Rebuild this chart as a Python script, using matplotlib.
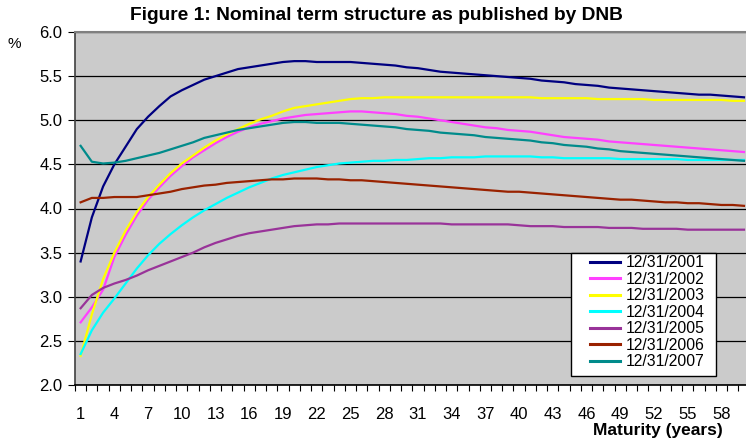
import numpy as np
import matplotlib
matplotlib.use("Agg")
import matplotlib.pyplot as plt
from matplotlib.patches import Rectangle

plt.rcParams['font.family'] = ['Liberation Sans', 'DejaVu Sans']

# maturities in years
maturity = list(range(1, 61))

yc_2001 = [3.40, 3.90, 4.25, 4.50, 4.70, 4.90, 5.04, 5.16, 5.27, 5.34,
           5.40, 5.46, 5.50, 5.54, 5.58, 5.60, 5.62, 5.64, 5.66, 5.67,
           5.67, 5.66, 5.66, 5.66, 5.66, 5.65, 5.64, 5.63, 5.62, 5.60,
           5.59, 5.57, 5.55, 5.54, 5.53, 5.52, 5.51, 5.50, 5.49, 5.48,
           5.47, 5.45, 5.44, 5.43, 5.41, 5.40, 5.39, 5.37, 5.36, 5.35,
           5.34, 5.33, 5.32, 5.31, 5.30, 5.29, 5.29, 5.28, 5.27, 5.26]
yc_2002 = [2.71, 2.88, 3.08, 3.45, 3.70, 3.92, 4.10, 4.24, 4.37, 4.48,
           4.58, 4.66, 4.74, 4.81, 4.87, 4.92, 4.96, 4.99, 5.02, 5.04,
           5.06, 5.07, 5.08, 5.09, 5.10, 5.10, 5.09, 5.08, 5.07, 5.05,
           5.04, 5.02, 5.00, 4.98, 4.96, 4.94, 4.92, 4.91, 4.89, 4.88,
           4.87, 4.85, 4.83, 4.81, 4.80, 4.79, 4.78, 4.76, 4.75, 4.74,
           4.73, 4.72, 4.71, 4.70, 4.69, 4.68, 4.67, 4.66, 4.65, 4.64]
yc_2003 = [2.33, 2.80, 3.20, 3.50, 3.75, 3.96, 4.13, 4.27, 4.40, 4.51,
           4.60, 4.69, 4.77, 4.84, 4.90, 4.96, 5.01, 5.05, 5.10, 5.14,
           5.16, 5.18, 5.20, 5.22, 5.24, 5.25, 5.25, 5.26, 5.26, 5.26,
           5.26, 5.26, 5.26, 5.26, 5.26, 5.26, 5.26, 5.26, 5.26, 5.26,
           5.26, 5.25, 5.25, 5.25, 5.25, 5.25, 5.24, 5.24, 5.24, 5.24,
           5.24, 5.23, 5.23, 5.23, 5.23, 5.23, 5.23, 5.23, 5.22, 5.22]
yc_2004 = [2.35, 2.62, 2.82, 2.98, 3.15, 3.32, 3.47, 3.60, 3.71, 3.81,
           3.90, 3.98, 4.05, 4.12, 4.18, 4.24, 4.29, 4.34, 4.38, 4.41,
           4.44, 4.47, 4.49, 4.51, 4.52, 4.53, 4.54, 4.54, 4.55, 4.55,
           4.56, 4.57, 4.57, 4.58, 4.58, 4.58, 4.59, 4.59, 4.59, 4.59,
           4.59, 4.58, 4.58, 4.57, 4.57, 4.57, 4.57, 4.57, 4.56, 4.56,
           4.56, 4.56, 4.56, 4.56, 4.55, 4.55, 4.55, 4.55, 4.55, 4.55]
yc_2005 = [2.87, 3.02, 3.10, 3.15, 3.19, 3.24, 3.30, 3.35, 3.40, 3.45,
           3.50, 3.56, 3.61, 3.65, 3.69, 3.72, 3.74, 3.76, 3.78, 3.80,
           3.81, 3.82, 3.82, 3.83, 3.83, 3.83, 3.83, 3.83, 3.83, 3.83,
           3.83, 3.83, 3.83, 3.82, 3.82, 3.82, 3.82, 3.82, 3.82, 3.81,
           3.80, 3.80, 3.80, 3.79, 3.79, 3.79, 3.79, 3.78, 3.78, 3.78,
           3.77, 3.77, 3.77, 3.77, 3.76, 3.76, 3.76, 3.76, 3.76, 3.76]
yc_2006 = [4.07, 4.12, 4.12, 4.13, 4.13, 4.13, 4.15, 4.17, 4.19, 4.22,
           4.24, 4.26, 4.27, 4.29, 4.30, 4.31, 4.32, 4.33, 4.33, 4.34,
           4.34, 4.34, 4.33, 4.33, 4.32, 4.32, 4.31, 4.30, 4.29, 4.28,
           4.27, 4.26, 4.25, 4.24, 4.23, 4.22, 4.21, 4.20, 4.19, 4.19,
           4.18, 4.17, 4.16, 4.15, 4.14, 4.13, 4.12, 4.11, 4.10, 4.10,
           4.09, 4.08, 4.07, 4.07, 4.06, 4.06, 4.05, 4.04, 4.04, 4.03]
yc_2007 = [4.71, 4.53, 4.51, 4.52, 4.54, 4.57, 4.60, 4.63, 4.67, 4.71,
           4.75, 4.80, 4.83, 4.86, 4.89, 4.91, 4.93, 4.95, 4.97, 4.98,
           4.98, 4.97, 4.97, 4.97, 4.96, 4.95, 4.94, 4.93, 4.92, 4.90,
           4.89, 4.88, 4.86, 4.85, 4.84, 4.83, 4.81, 4.80, 4.79, 4.78,
           4.77, 4.75, 4.74, 4.72, 4.71, 4.70, 4.68, 4.67, 4.65, 4.64,
           4.63, 4.62, 4.61, 4.60, 4.59, 4.58, 4.57, 4.56, 4.55, 4.54]

series = [yc_2001, yc_2002, yc_2003, yc_2004, yc_2005, yc_2006, yc_2007]
labels = ['12/31/2001', '12/31/2002', '12/31/2003', '12/31/2004',
          '12/31/2005', '12/31/2006', '12/31/2007']
colors = ['#000080', '#FF40FF', '#FFFF00', '#00FFFF', '#993399', '#992200', '#008B8B']

W, H = 746, 441
fig = plt.figure(figsize=(W / 100, H / 100), dpi=100)
ax = fig.add_axes([75 / W, 56 / H, 674.6 / W, 353 / H])
ax.set_facecolor('#CBCBCB')

for y, lab, c in zip(series, labels, colors):
    ax.plot(maturity, y, color=c, lw=1.6, label=lab, zorder=3)

ax.set_xlim(0.5, 60.5)
ax.set_ylim(2.0, 6.0)
ax.set_yticks(np.arange(2.0, 6.01, 0.5))
ax.set_yticklabels([f'{v:.1f}' for v in np.arange(2.0, 6.01, 0.5)], fontsize=12)
ax.set_xticks(maturity[::3])
ax.set_xticklabels([str(m) for m in maturity[::3]], fontsize=12)
ax.set_xticks(np.arange(0.5, 61, 1), minor=True)
ax.tick_params(axis='x', which='major', length=0, pad=16)
ax.tick_params(axis='x', which='minor', length=4, width=0.8, direction='out')
ax.tick_params(axis='y', length=5, width=0.8, pad=4)

ax.grid(axis='y', color='black', lw=0.9, zorder=1)
ax.set_axisbelow(True)
for s in ['top', 'right']:
    ax.spines[s].set_color('#808080')
    ax.spines[s].set_linewidth(1.5)
ax.spines['left'].set_color('#404040')
ax.spines['left'].set_linewidth(1.2)
ax.spines['bottom'].set_color('black')
ax.spines['bottom'].set_linewidth(1.2)

fig.text(376 / W, 1 - 16 / H, 'Figure 1: Nominal term structure as published by DNB',
         ha='center', va='center', fontsize=13.8, fontweight='bold')
fig.text(14 / W, 1 - 44 / H, '%', ha='center', va='center', fontsize=11)
fig.text(723 / W, 1 - 430 / H, 'Maturity (years)', ha='right', va='center',
         fontsize=12.5, fontweight='bold')

# legend box drawn separately so the inner padding can differ per side
box = Rectangle((571 / W, 1 - 376 / H), 145 / W, 123 / H, transform=fig.transFigure,
                facecolor='white', edgecolor='black', lw=1.0, zorder=4)
ax.add_patch(box)
box.set_clip_on(False)

leg = ax.legend(loc='upper left', bbox_to_anchor=(590 / W, 1 - 255 / H),
                bbox_transform=fig.transFigure, fontsize=11.3, frameon=False,
                handlelength=1.9, handletextpad=0.35, labelspacing=0.1,
                borderpad=0.0, borderaxespad=0)
leg.set_zorder(5)
for line in leg.get_lines():
    line.set_linewidth(2.2)

fig.savefig('out.png', dpi=100)
